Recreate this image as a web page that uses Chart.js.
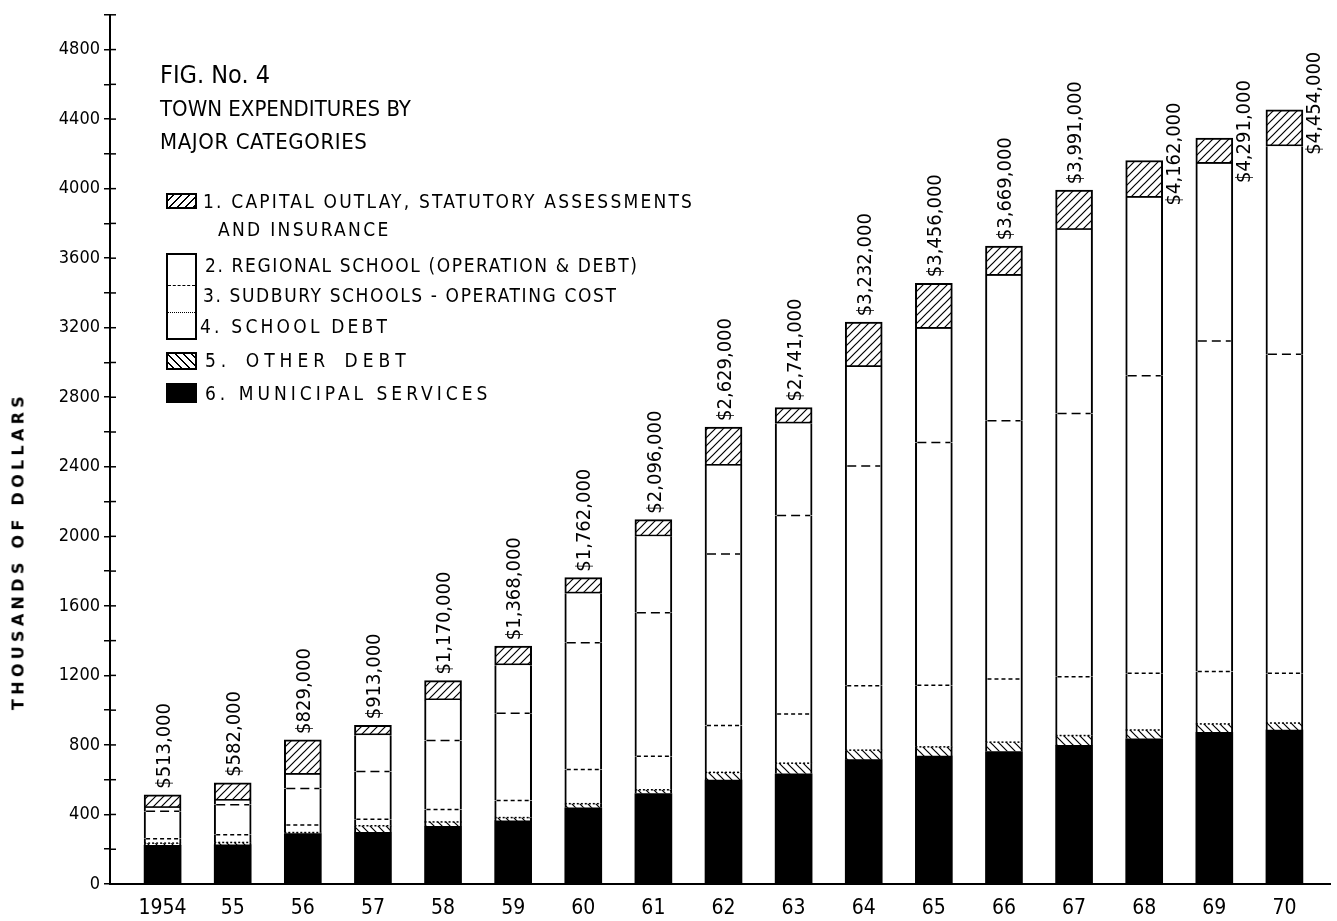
<!DOCTYPE html>
<html>
<head>
<meta charset="utf-8">
<script src="https://cdn.jsdelivr.net/npm/chart.js@4.4.0/dist/chart.umd.min.js"></script>
<style>
  html, body { margin: 0; padding: 0; background: #fff; }
  #wrap { position: relative; width: 1337px; height: 921px; }
  #myChart { position: absolute; left: 0; top: 0; }
  .txt { position: absolute; font-family: 'DejaVu Sans Condensed', 'DejaVu Sans', sans-serif; color: #000; white-space: nowrap; font-size: 22px; line-height: 1; }
  .sm { font-size: 19px; }
  .sw { position: absolute; box-sizing: border-box; border: 2px solid #000; background: #fff; }
  .fwd { background: repeating-linear-gradient(135deg, #fff 0 3px, #000 3px 4.3px, #fff 4.3px 5.7px); }
  .bck { background: repeating-linear-gradient(45deg, #fff 0 3px, #000 3px 4.3px, #fff 4.3px 5.7px); }
  .dash { position: absolute; left: 0; right: 0; height: 0; }
  #ytitle { position: absolute; left: 18px; top: 551px; transform: translate(-50%, -50%) rotate(-90deg); font-family: 'DejaVu Sans', sans-serif; font-weight: bold; font-size: 16px; letter-spacing: 4.3px; white-space: nowrap; }
</style>
</head>
<body>
<div id="wrap">
  <canvas id="myChart" width="1337" height="921"></canvas>
  <div id="ytitle">THOUSANDS OF DOLLARS</div>

  <div class="txt" style="left:160px;top:62px;font-size:25px">FIG. No. 4</div>
  <div class="txt" style="left:160px;top:98px">TOWN EXPENDITURES BY</div>
  <div class="txt" style="left:160px;top:131px;letter-spacing:0.6px">MAJOR CATEGORIES</div>

  <div class="sw fwd" style="left:166px;top:193px;width:31px;height:16px"></div>
  <div class="txt sm" style="left:203px;top:192px;letter-spacing:2.2px">1. CAPITAL OUTLAY, STATUTORY ASSESSMENTS</div>
  <div class="txt sm" style="left:218px;top:220px;letter-spacing:2.3px">AND INSURANCE</div>

  <div class="sw" style="left:166px;top:253px;width:31px;height:87px">
    <div class="dash" style="top:30px;border-top:1.5px dashed #000"></div>
    <div class="dash" style="top:57px;border-top:1.5px dotted #000"></div>
  </div>
  <div class="txt sm" style="left:205px;top:256px;letter-spacing:1.6px">2. REGIONAL SCHOOL (OPERATION &amp; DEBT)</div>
  <div class="txt sm" style="left:203px;top:286px;letter-spacing:1.6px">3. SUDBURY SCHOOLS - OPERATING COST</div>
  <div class="txt sm" style="left:200px;top:317px;letter-spacing:3.2px">4. SCHOOL DEBT</div>

  <div class="sw bck" style="left:166px;top:352px;width:31px;height:18px"></div>
  <div class="txt sm" style="left:205px;top:351px;letter-spacing:5px;word-spacing:4px">5. OTHER DEBT</div>

  <div class="sw" style="left:166px;top:383px;width:31px;height:20px;background:#000"></div>
  <div class="txt sm" style="left:205px;top:384px;letter-spacing:4px">6. MUNICIPAL SERVICES</div>
</div>

<script>
// thousands of dollars (bottom of the stack first)
var years = ['1954', '55', '56', '57', '58', '59', '60', '61', '62', '63', '64', '65', '66', '67', '68', '69', '70'];
var municipal  = [222, 225, 290, 297, 332, 363, 438, 520, 598, 634, 715, 736, 762, 797, 835, 873, 886];
var otherDebt  = [13, 14, 6, 38, 25, 19, 24, 22, 44, 61, 55, 53, 54, 57, 51, 48, 40];
var schoolDebt = [26, 45, 43, 38, 71, 99, 197, 193, 270, 283, 370, 355, 363, 338, 327, 302, 287];
var sudburyOp  = [158, 172, 210, 274, 397, 501, 729, 826, 986, 1142, 1265, 1396, 1486, 1515, 1710, 1900, 1834];
var regional   = [19, 24, 80, 209, 233, 277, 283, 439, 509, 529, 569, 654, 834, 1056, 1025, 1020, 1197];
var capital    = [75, 102, 200, 57, 112, 109, 91, 96, 222, 92, 258, 262, 170, 228, 214, 148, 210];
var yTickLabels = [0, 400, 800, 1200, 1600, 2000, 2400, 2800, 3200, 3600, 4000, 4400, 4800];

var FONT = "'DejaVu Sans Condensed', 'DejaVu Sans', sans-serif";

var ctx = document.getElementById('myChart').getContext('2d');

// hatch patterns: 1 = '/', -1 = '\'
function hatch(dir) {
  var c = document.createElement('canvas');
  c.width = 8; c.height = 8;
  var g = c.getContext('2d');
  g.fillStyle = '#fff';
  g.fillRect(0, 0, 8, 8);
  g.strokeStyle = '#000';
  g.lineWidth = 1.2;
  g.beginPath();
  if (dir > 0) {
    g.moveTo(0, 8); g.lineTo(8, 0);
    g.moveTo(-4, 4); g.lineTo(4, -4);
    g.moveTo(4, 12); g.lineTo(12, 4);
  } else {
    g.moveTo(0, 0); g.lineTo(8, 8);
    g.moveTo(-4, 4); g.lineTo(4, 12);
    g.moveTo(4, -4); g.lineTo(12, 4);
  }
  g.stroke();
  return ctx.createPattern(c, 'repeat');
}

function pts(arr) {
  return arr.map(function (v, i) { return { x: i, y: v }; });
}

var totals = years.map(function (y, i) {
  return municipal[i] + otherDebt[i] + schoolDebt[i] + sudburyOp[i] + regional[i] + capital[i];
});

var sides = { left: 2, right: 2, top: 0, bottom: 0 };

var extras = {
  id: 'extras',
  afterDatasetsDraw: function (chart) {
    var c = chart.ctx;
    // dashed separators between the school parts
    [[2, [4, 3]], [3, [9, 5]]].forEach(function (s) {
      chart.getDatasetMeta(s[0]).data.forEach(function (bar) {
        c.save();
        c.setLineDash(s[1]);
        c.lineWidth = 1.5;
        c.strokeStyle = '#000';
        c.beginPath();
        c.moveTo(bar.x - bar.width / 2 + 2, bar.y);
        c.lineTo(bar.x + bar.width / 2 - 2, bar.y);
        c.stroke();
        c.restore();
      });
    });
    // thin line on top of other debt
    chart.getDatasetMeta(1).data.forEach(function (bar) {
      c.save();
      c.setLineDash([2, 2]);
      c.lineWidth = 1.5;
      c.beginPath();
      c.moveTo(bar.x - bar.width / 2, bar.y);
      c.lineTo(bar.x + bar.width / 2, bar.y);
      c.stroke();
      c.restore();
    });
    // totals, written upwards
    chart.getDatasetMeta(5).data.forEach(function (bar, i) {
      var txt = '$' + (totals[i] * 1000).toLocaleString('en-US');
      var x = bar.x + 2, y = bar.y - 6;
      if (i >= 14) { x = bar.x + bar.width / 2 + 12; y = bar.y + 45; }
      c.save();
      c.translate(x, y);
      c.rotate(-Math.PI / 2);
      c.font = '20px ' + FONT;
      c.fillStyle = '#000';
      c.textAlign = 'left';
      c.textBaseline = 'middle';
      c.fillText(txt, 0, 0);
      c.restore();
    });
  },
  afterDraw: function (chart) {
    // inner half of the y ticks, so they cross the axis
    var c = chart.ctx, ys = chart.scales.y;
    c.save();
    c.strokeStyle = '#000';
    c.lineWidth = 1.5;
    ys.ticks.forEach(function (t) {
      var py = ys.getPixelForValue(t.value);
      c.beginPath();
      c.moveTo(ys.right, py);
      c.lineTo(ys.right + 6, py);
      c.stroke();
    });
    c.restore();
  }
};

var chart = new Chart(ctx, {
  type: 'bar',
  data: {
    datasets: [
      { label: '6. Municipal services', data: pts(municipal), backgroundColor: '#000', borderWidth: 0 },
      { label: '5. Other debt', data: pts(otherDebt), backgroundColor: hatch(-1), borderColor: '#000', borderWidth: sides, borderSkipped: false },
      { label: '4. School debt', data: pts(schoolDebt), backgroundColor: '#fff', borderColor: '#000', borderWidth: sides, borderSkipped: false },
      { label: '3. Sudbury schools - operating cost', data: pts(sudburyOp), backgroundColor: '#fff', borderColor: '#000', borderWidth: sides, borderSkipped: false },
      { label: '2. Regional school', data: pts(regional), backgroundColor: '#fff', borderColor: '#000', borderWidth: sides, borderSkipped: false },
      { label: '1. Capital outlay', data: pts(capital), backgroundColor: hatch(1), borderColor: '#000', borderWidth: 2, borderSkipped: false }
    ]
  },
  options: {
    responsive: false,
    animation: false,
    barThickness: 37,
    layout: { padding: { top: 11, right: 7, left: 0, bottom: 0 } },
    plugins: {
      legend: { display: false },
      tooltip: { enabled: false }
    },
    scales: {
      x: {
        type: 'linear',
        stacked: true,
        offset: false,
        min: -0.75,
        max: 16.65,
        afterBuildTicks: function (s) {
          s.ticks = years.map(function (y, i) { return { value: i }; });
        },
        afterFit: function (s) { s.height = 37; },
        grid: { display: false, offset: false },
        border: { display: true, color: '#000', width: 2 },
        ticks: {
          autoSkip: false,
          maxRotation: 0,
          padding: 4,
          color: '#000',
          font: { family: FONT, size: 21 },
          callback: function (v) { return years[v]; }
        }
      },
      y: {
        stacked: true,
        min: 0,
        max: 5000,
        afterFit: function (s) { s.width = 110; },
        grid: { drawOnChartArea: false, tickLength: 6, color: '#000', lineWidth: 1.5 },
        border: { display: true, color: '#000', width: 2 },
        ticks: {
          stepSize: 200,
          padding: 4,
          color: '#000',
          font: { family: FONT, size: 18 },
          callback: function (v) { return yTickLabels.indexOf(v) >= 0 ? String(v) : ''; }
        }
      }
    }
  },
  plugins: [extras]
});
</script>
</body>
</html>
